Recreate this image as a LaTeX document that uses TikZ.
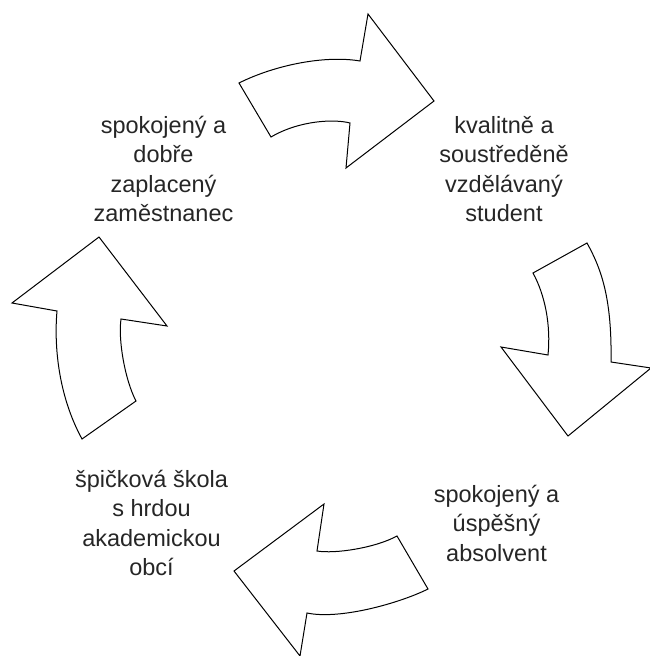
\documentclass[tikz,border=0pt]{standalone}
\usepackage{fontspec}
\setmainfont{Liberation Sans}
\begin{document}
\begin{tikzpicture}[x=1pt,y=-1pt,
  arrowshape/.style={draw=black,line width=1pt,line join=miter,fill=white},
  label/.style={align=center,font=\fontsize{23.5}{29.5}\selectfont,inner sep=0pt,text=black!85}]
\useasboundingbox (0,0) rectangle (650,656);
% top arrow
\draw[arrowshape] (239,83) .. controls (275,65) and (325,55) .. (360,61)
  -- (368,14) -- (434,101) -- (346,168) -- (350,123)
  .. controls (335,119) and (300,120) .. (271,137) -- cycle;
% right arrow
\draw[arrowshape] (533,273) -- (587,243)
  .. controls (602,270) and (612,300) .. (611,362)
  -- (651,368) -- (568,436) -- (501,347) -- (548,355)
  .. controls (551,325) and (545,295) .. (533,273) -- cycle;
% bottom arrow
\draw[arrowshape] (397,536) -- (428,589)
  .. controls (400,603) and (340,620) .. (307,613)
  -- (300,656) -- (234,571) -- (324,504) -- (317,551)
  .. controls (335,554) and (375,548) .. (397,536) -- cycle;
% left arrow
\draw[arrowshape] (82,439) -- (136,401)
  .. controls (125,380) and (118,340) .. (121,319)
  -- (167,326) -- (99,237) -- (12,303) -- (57,311)
  .. controls (54,345) and (58,395) .. (82,439) -- cycle;
% labels
\node[label] (tl) at (163.5,169) {spokojený a\\dobře\\zaplacený\\zaměstnanec};
\node[label] (tr) at (504,169) {kvalitně a\\soustředěně\\vzdělávaný\\student};
\node[label] (br) at (496.5,523) {spokojený a\\úspěšný\\absolvent};
\node[label] (bl) at (151.5,523) {špičková škola\\s hrdou\\akademickou\\obcí};
\end{tikzpicture}
\end{document}
